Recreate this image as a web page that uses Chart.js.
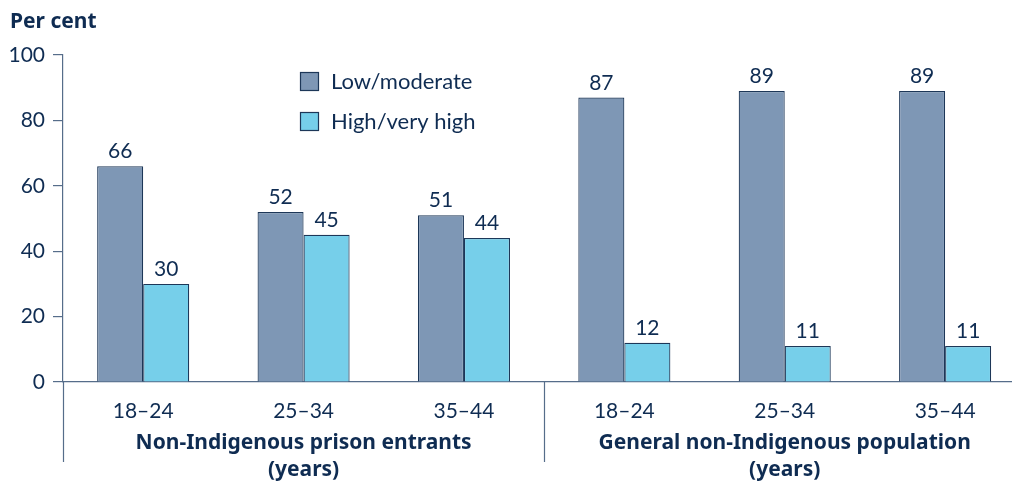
<!DOCTYPE html>
<html>
<head>
<meta charset="utf-8">
<script src="https://cdn.jsdelivr.net/npm/chart.js@4/dist/chart.umd.min.js"></script>
<style>
  html, body { margin: 0; padding: 0; background: #fff; overflow: hidden; }
  #wrap { width: 1012px; height: 483px; }
</style>
</head>
<body>
<div id="wrap"><canvas id="risk-chart" width="1012" height="483"></canvas></div>
<script>
const ageGroups = ['18–24', '25–34', '35–44', '18–24', '25–34', '35–44']
const populations = ['Non-Indigenous prison entrants', 'General non-Indigenous population']
const lowModerate = [66, 52, 51, 87, 89, 89]
const highVeryHigh = [30, 45, 44, 12, 11, 11]
const yTicks = [0, 20, 40, 60, 80, 100]

const navy = '#0f2c52'
const axisGrey = '#566d8a'
const FONT = 'Lato, "Noto Sans", sans-serif'
const BOLD_FONT = '"Noto Sans", "Open Sans", sans-serif'

// bars sit on a linear x scale so groups keep their spacing and run off the right edge
const toPoints = (vals) => vals.map((v, i) => ({ x: i + 0.5, y: v }))

const extras = {
  id: 'extras',
  afterDraw(chart) {
    const { ctx, chartArea, scales } = chart
    ctx.save()

    // axis extensions below the plot
    ctx.strokeStyle = axisGrey
    ctx.lineWidth = 1.2
    const divX = Math.round(scales.x.getPixelForValue(3)) + 0.5
    ctx.beginPath()
    ctx.moveTo(chartArea.left + 0.5, chartArea.bottom)
    ctx.lineTo(chartArea.left + 0.5, 462)
    ctx.moveTo(divX, chartArea.bottom)
    ctx.lineTo(divX, 462)
    ctx.stroke()

    // value labels
    ctx.fillStyle = navy
    ctx.font = '21px ' + FONT
    ctx.textAlign = 'center'
    ctx.textBaseline = 'bottom'
    chart.data.datasets.forEach((ds, di) => {
      chart.getDatasetMeta(di).data.forEach((bar, i) => {
        ctx.fillText(String(ds.data[i].y), bar.x, bar.y - 4)
      })
    })

    // group titles
    ctx.font = 'bold 21px ' + BOLD_FONT
    ctx.textBaseline = 'middle'
    populations.forEach((name, g) => {
      const cx = (scales.x.getPixelForValue(g * 3) + scales.x.getPixelForValue(g * 3 + 3)) / 2
      ctx.fillText(name, cx, 443)
      ctx.fillText('(years)', cx, 470)
    })

    // y title
    ctx.textAlign = 'left'
    ctx.fillText('Per cent', 10, 22)

    // legend
    ctx.font = '22px ' + FONT
    chart.data.datasets.forEach((ds, di) => {
      const y = 72 + di * 40
      ctx.fillStyle = ds.backgroundColor
      ctx.fillRect(300, y, 19, 19)
      ctx.strokeStyle = ds.borderColor
      ctx.lineWidth = 1.2
      ctx.strokeRect(300.5, y + 0.5, 18, 18)
      ctx.fillStyle = navy
      ctx.fillText(ds.label, 331, y + 10)
    })

    ctx.restore()
  },
}

document.addEventListener('DOMContentLoaded', () => {
  const ctx = document.getElementById('risk-chart').getContext('2d')

  new Chart(ctx, {
    type: 'bar',
    data: {
      datasets: [
        {
          label: 'Low/moderate',
          data: toPoints(lowModerate),
          backgroundColor: '#7e97b5',
          borderColor: '#1d3758',
          borderWidth: 1.2,
        },
        {
          label: 'High/very high',
          data: toPoints(highVeryHigh),
          backgroundColor: '#76cfea',
          borderColor: '#1d3758',
          borderWidth: 1.2,
        },
      ],
    },
    options: {
      responsive: false,
      animation: false,
      layout: { padding: { top: 55, left: 0, right: 0, bottom: 0 } },
      datasets: {
        bar: { barPercentage: 1, categoryPercentage: 0.574 },
      },
      scales: {
        x: {
          type: 'linear',
          min: 0,
          max: 5.917,
          offset: false,
          afterBuildTicks: (scale) => {
            scale.ticks = ageGroups.map((_, i) => ({ value: i + 0.5 }))
          },
          afterFit: (scale) => { scale.height = 101 },
          grid: { display: false, drawTicks: false },
          border: { display: true, color: axisGrey, width: 1.2 },
          ticks: {
            autoSkip: false,
            maxRotation: 0,
            padding: 17,
            color: navy,
            font: { family: FONT, size: 21 },
            callback: (v) => ageGroups[Math.round(v - 0.5)],
          },
        },
        y: {
          min: 0,
          max: 100,
          afterBuildTicks: (scale) => {
            scale.ticks = yTicks.map((v) => ({ value: v }))
          },
          afterFit: (scale) => { scale.width = 63 },
          grid: {
            drawOnChartArea: false,
            drawTicks: true,
            tickLength: 10,
            color: axisGrey,
            lineWidth: 1.2,
          },
          border: { display: true, color: axisGrey, width: 1.2 },
          ticks: {
            padding: 8,
            color: navy,
            font: { family: FONT, size: 21 },
          },
        },
      },
      plugins: {
        legend: { display: false },
        tooltip: { enabled: false },
      },
    },
    plugins: [extras],
  })
})
</script>
</body>
</html>
